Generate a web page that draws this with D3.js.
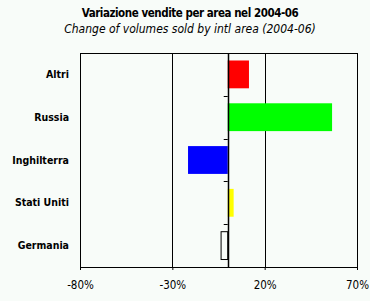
<!DOCTYPE html>
<html>
<head>
<meta charset="utf-8">
<script src="https://cdn.jsdelivr.net/npm/d3@7"></script>
<style>
  body { margin: 0; background: #f8fcf9; }
  svg { display: block; }
</style>
</head>
<body>
<div id="chart"></div>
<script>
const ancho = 370;
const alto = 301;

const aree = ["Altri", "Russia", "Inghilterra", "Stati Uniti", "Germania"];
const variazioni = [11.5, 56.5, -21.5, 3.2, -3.6];
const colori = ["#ff0000", "#00ff00", "#0000ff", "#ffff00", "#f8fcf9"];
const tickValori = [-80, -30, 20, 70];

const margine = { top: 53, right: 13, bottom: 34, left: 80 };

const svg = d3.select("#chart")
  .append("svg")
  .attr("width", ancho)
  .attr("height", alto);

svg.append("rect")
  .attr("width", ancho)
  .attr("height", alto)
  .attr("fill", "#f8fcf9");

// titoli
svg.append("text")
  .attr("x", 190).attr("y", 17)
  .attr("text-anchor", "middle")
  .style("font", "bold 11.5px 'DejaVu Sans Condensed', 'DejaVu Sans'")
  .style("font-stretch", "condensed")
  .style("letter-spacing", "-0.45px")
  .text("Variazione vendite per area nel 2004-06");

svg.append("text")
  .attr("x", 190).attr("y", 33)
  .attr("text-anchor", "middle")
  .style("font", "italic 12px 'DejaVu Sans Condensed', 'DejaVu Sans'")
  .style("font-stretch", "condensed")
  .style("letter-spacing", "0px")
  .text("Change of volumes sold by intl area (2004-06)");

const x = d3.scaleLinear()
  .domain([-80, 70])
  .range([margine.left, ancho - margine.right]);

const y = d3.scaleBand()
  .domain(aree)
  .range([margine.top, alto - margine.bottom])
  .paddingInner(0.35)
  .paddingOuter(0.175);

const yBordi = d3.scaleBand()
  .domain(aree)
  .range([margine.top, alto - margine.bottom]);

// griglia verticale
svg.selectAll(".griglia")
  .data(tickValori)
  .enter()
  .append("line")
  .attr("class", "griglia")
  .attr("x1", d => Math.round(x(d)) + 0.5)
  .attr("x2", d => Math.round(x(d)) + 0.5)
  .attr("y1", margine.top)
  .attr("y2", alto - margine.bottom)
  .attr("stroke", "#000")
  .attr("stroke-width", 1);

// bordo superiore
svg.append("line")
  .attr("x1", x(-80)).attr("x2", x(70))
  .attr("y1", margine.top + 0.5).attr("y2", margine.top + 0.5)
  .attr("stroke", "#000");

// barre
svg.selectAll(".barra")
  .data(aree)
  .enter()
  .append("rect")
  .attr("class", "barra")
  .attr("x", (d, i) => x(Math.min(0, variazioni[i])))
  .attr("y", d => y(d))
  .attr("width", (d, i) => Math.abs(x(variazioni[i]) - x(0)))
  .attr("height", y.bandwidth())
  .attr("fill", (d, i) => colori[i])
  .attr("stroke", (d, i) => i === 4 ? "#000" : "none")
  .attr("stroke-width", 1);

// asse dello zero con tacche
svg.append("line")
  .attr("x1", Math.round(x(0)) + 0.5).attr("x2", Math.round(x(0)) + 0.5)
  .attr("y1", margine.top).attr("y2", alto - margine.bottom)
  .attr("stroke", "#000").attr("stroke-width", 1.5);

svg.selectAll(".tacca")
  .data(aree.slice(1))
  .enter()
  .append("line")
  .attr("class", "tacca")
  .attr("x1", x(0) - 4).attr("x2", x(0))
  .attr("y1", d => Math.round(yBordi(d)) + 0.5)
  .attr("y2", d => Math.round(yBordi(d)) + 0.5)
  .attr("stroke", "#000");

// etichette categorie
svg.selectAll(".etichetta")
  .data(aree)
  .enter()
  .append("text")
  .attr("class", "etichetta")
  .attr("x", 69)
  .attr("y", d => y(d) + y.bandwidth() / 2)
  .attr("dy", "0.35em")
  .attr("text-anchor", "end")
  .style("font", "bold 10.5px 'DejaVu Sans Condensed', 'DejaVu Sans'")
  .style("font-stretch", "condensed")
  .style("letter-spacing", "0px")
  .text(d => d);

// asse x
const asseX = d3.axisBottom(x)
  .tickValues(tickValori)
  .tickSize(3)
  .tickPadding(11)
  .tickFormat(d => d + "%");

const gX = svg.append("g")
  .attr("transform", `translate(0,${alto - margine.bottom})`)
  .call(asseX);

gX.select(".domain").attr("stroke", "#000").attr("stroke-width", 1);
gX.selectAll("text")
  .style("font", "11.5px 'DejaVu Sans Condensed', 'DejaVu Sans'")
  .style("font-stretch", "condensed")
  .attr("fill", "#000");
</script>
</body>
</html>
